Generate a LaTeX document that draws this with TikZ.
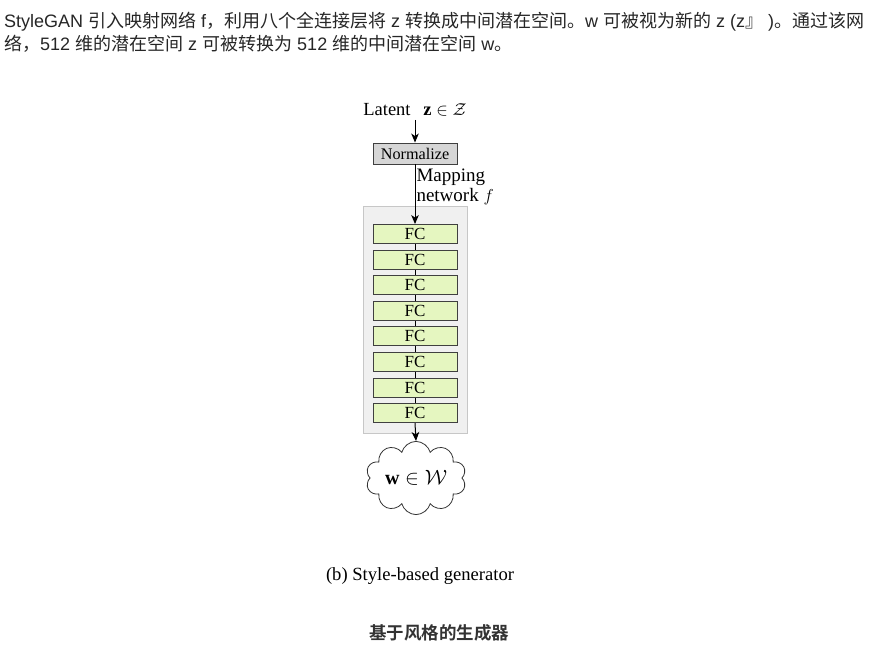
\documentclass[tikz,border=0pt]{standalone}
\usepackage{fontspec}
\usepackage{amsmath,amssymb}
\setmainfont{Liberation Serif}
\newfontfamily\headfont{Liberation Sans}
\newfontfamily\cjk[BoldFont={Noto Sans CJK SC Bold}]{Noto Sans CJK SC}
\usetikzlibrary{arrows.meta,positioning,shapes.symbols,fit,backgrounds}

\definecolor{fcgreen}{RGB}{229,246,192}
\newcommand\zh[1]{{\cjk #1}}

\begin{document}
\begin{tikzpicture}[
      x=1pt, y=-1pt,
      font=\fontsize{17}{19}\selectfont,
      node distance=5.7pt,
      blk/.style={draw=black!75, line width=0.9pt, minimum width=84pt,
                  minimum height=19pt, inner sep=0pt},
      normbox/.style={blk, fill=black!16, minimum height=21pt,
                      font=\fontsize{16.2}{18}\selectfont},
      fc/.style={blk, fill=fcgreen},
      mapbg/.style={draw=black!22, fill=black!6, line width=0.8pt},
      head/.style={anchor=base west, font=\headfont\fontsize{18}{20}\selectfont,
                   text=black!85, inner sep=0pt},
      arr/.style={-{Stealth[length=9pt,width=7.5pt,inset=2.5pt]}, line width=1pt}
    ]
    \useasboundingbox (0,0) rectangle (878,655);
    % text above the figure
    \node[head] (line1) at (4,28) {StyleGAN \zh{引入映射网络} f\zh{，利用八个全连接层将} z \zh{转换成中间潜在空间。}w \zh{可被视为新的} z (z\zh{』} )\zh{。通过该网}};
    \node[head] (line2) at (4,51) {\zh{络，}512 \zh{维的潜在空间} z \zh{可被转换为} 512 \zh{维的中间潜在空间} w\zh{。}};
    % mapping network
    \node (latent) at (415,110) {\fontsize{18.5}{20}\selectfont Latent\;\, $\mathbf{z}\in\mathcal{Z}$};
    \node[normbox] (norm) at (415,153.5) {Normalize};
    \node[fc] (fc1) at (415,234) {FC};
    \node[fc] (fc2) [below=of fc1] {FC};
    \node[fc] (fc3) [below=of fc2] {FC};
    \node[fc] (fc4) [below=of fc3] {FC};
    \node[fc] (fc5) [below=of fc4] {FC};
    \node[fc] (fc6) [below=of fc5] {FC};
    \node[fc] (fc7) [below=of fc6] {FC};
    \node[fc] (fc8) [below=of fc7] {FC};
    \node[cloud, draw=black!80, line width=0.8pt, cloud puffs=10, aspect=1.7,
          inner xsep=1.5pt, inner ysep=-4.5pt] (w) at (416,478)
          {\fontsize{20}{22}\selectfont $\mathbf{w}\in\mathcal{W}$};
    \draw[arr] (latent) -- (norm);
    \draw[arr] (norm) -- node[pos=0.37, right=1pt, align=left, inner sep=0pt,
          font=\fontsize{19}{20}\selectfont]{Mapping\\network $f$} (fc1);
    \draw[line width=0.6pt] (fc1) -- (fc2) -- (fc3) -- (fc4) -- (fc5) -- (fc6) -- (fc7) -- (fc8);
    \draw[arr] (fc8.south) -- (w.north);
    \begin{scope}[on background layer]
      \node[mapbg, fit=(fc1)(fc8), inner xsep=9.5pt, inner ysep=14pt, yshift=3.5pt] (mapnet) {};
    \end{scope}
    % captions
    \node (cap) at (420,576) {\fontsize{18.6}{20}\selectfont (b) Style-based generator};
    \node[font=\cjk\bfseries\fontsize{17.5}{20}\selectfont, text=black!80] (title) at (439,633) {基于风格的生成器};
  \end{tikzpicture}
\end{document}
